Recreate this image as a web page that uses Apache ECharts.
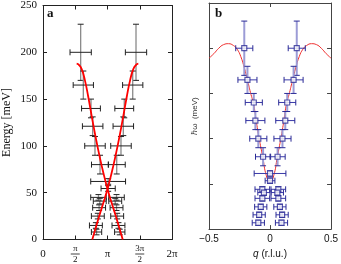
<!DOCTYPE html>
<html><head><meta charset="utf-8">
<script src="https://cdn.jsdelivr.net/npm/echarts@6/dist/echarts.min.js"></script>
<style>html,body{margin:0;padding:0;background:#fff}#c{width:341px;height:264px}</style>
</head><body><div id="c"></div>
<script>
// ---------- Panel a (x in units of pi, energy in meV) ----------
const aE      = [200, 165, 140, 121, 100, 80, 45, 41, 34, 25, 15, 8];
const aLeftX  = [0.584, 0.625, 0.744, 0.770, 0.806, 0.884, 0.86, 0.88, 0.87, 0.85, 0.82, 0.83];
const aRightX = [1.442, 1.391, 1.260, 1.245, 1.209, 1.143, 1.14, 1.12, 1.14, 1.15, 1.17, 1.19];
const aXErr   = [0.165, 0.157, 0.146, 0.159, 0.159, 0.132, 0.12, 0.10, 0.10, 0.10, 0.10, 0.08];
const aEErr   = [30, 15, 10, 10, 10, 10, 3, 3, 3, 3, 3, 3];
const aCenterX = [1.01, 1.01];
const aCenterE = [62, 54.5];
const aCenterXErr = [0.27, 0.11];
const aCenterEErr = [3, 3];
const aCurve1X = [0.764, 0.82, 0.88, 0.94, 1.0, 1.06, 1.12, 1.18, 1.24, 1.30, 1.35, 1.40, 1.45, 1.478];
const aCurve2X = [1.236, 1.18, 1.12, 1.06, 1.0, 0.94, 0.88, 0.82, 0.76, 0.70, 0.65, 0.60, 0.55, 0.522];
const aCurveE  = [0, 13, 27, 40, 54, 70, 88, 108, 130, 153, 170, 182, 187, 188];

// ---------- Panel b (q in r.l.u., energy in meV) ----------
const bE      = [200, 165, 140, 120, 100, 80, 44, 40.4, 34, 24.6, 15.8, 7];
const bLeftQ  = [-0.211, -0.185, -0.133, -0.120, -0.096, -0.057, -0.063, -0.050, -0.063, -0.076, -0.089, -0.096];
const bRightQ = [0.219, 0.193, 0.141, 0.125, 0.102, 0.062, 0.068, 0.060, 0.068, 0.081, 0.099, 0.094];
const bQErr   = [0.07, 0.078, 0.07, 0.078, 0.07, 0.062, 0.06, 0.05, 0.06, 0.05, 0.05, 0.05];
const bEErr   = [30, 15, 10, 10, 10, 10, 3, 3, 3, 3, 3, 3];
const bCenterQ = [0, 0];
const bCenterE = [61.5, 53.5];
const bCenterQErr = [0.13, 0.04];
const bCenterEErr = [3, 3];
const bCurveQ = [-0.5, -0.46, -0.42, -0.38, -0.34, -0.30, -0.27, -0.24, -0.21, -0.185, -0.16, -0.133, -0.11, -0.09, -0.06, -0.03, 0,
                 0.03, 0.06, 0.09, 0.11, 0.133, 0.16, 0.185, 0.21, 0.24, 0.27, 0.30, 0.34, 0.38, 0.42, 0.46, 0.5];
const bCurveE = [189, 194, 200, 204, 205, 203, 199, 191, 178, 165, 151, 137, 117, 101, 80, 59, 52,
                 59, 80, 101, 117, 137, 151, 165, 178, 191, 199, 203, 205, 204, 200, 194, 189];

function rows(xs, es, dxs, des) { return xs.map((x, i) => [x, es[i], dxs[i], des[i]]); }
const aErrData = rows(aLeftX, aE, aXErr, aEErr).concat(rows(aRightX, aE, aXErr, aEErr), rows(aCenterX, aCenterE, aCenterXErr, aCenterEErr));
const bErrData = rows(bLeftQ, bE, bQErr, bEErr).concat(rows(bRightQ, bE, bQErr, bEErr), rows(bCenterQ, bCenterE, bCenterQErr, bCenterEErr));

function makeErr(vColor, vWidth, hColor, hWidth, capColor) {
  return function (params, api) {
    const x = api.value(0), y = api.value(1), dx = api.value(2), dy = api.value(3);
    const l = api.coord([x - dx, y]), r = api.coord([x + dx, y]);
    const t = api.coord([x, y + dy]), b = api.coord([x, y - dy]);
    const cap = 3;
    const ln = (x1, y1, x2, y2, c, w) => ({type: 'line', shape: {x1, y1, x2, y2}, style: {stroke: c, lineWidth: w}});
    return {type: 'group', children: [
      ln(t[0], t[1], b[0], b[1], vColor, vWidth),
      ln(t[0] - cap, t[1], t[0] + cap, t[1], capColor, 1),
      ln(b[0] - cap, b[1], b[0] + cap, b[1], capColor, 1),
      ln(l[0], l[1], r[0], r[1], hColor, hWidth),
      ln(l[0], l[1] - cap, l[0], l[1] + cap, capColor, 1),
      ln(r[0], r[1] - cap, r[0], r[1] + cap, capColor, 1)
    ]};
  };
}

const serif = 'Liberation Serif';
const sans = 'Liberation Sans';
const axA = {onZero: false, lineStyle: {color: '#222', width: 1}};
const axB = {onZero: false, lineStyle: {color: '#444', width: 1}};
const tkA = {inside: true, length: 4, lineStyle: {color: '#222'}};
const tkB = {inside: true, length: 4, lineStyle: {color: '#444'}};

const option = {
  animation: false,
  grid: [
    {left: 43, right: 169, top: 3, bottom: 24},
    {left: 209, right: 4, top: 3, bottom: 24}
  ],
  xAxis: [
    {gridIndex: 0, type: 'value', min: 0, max: 2, interval: 0.5, position: 'bottom',
     axisLine: axA, axisTick: tkA, splitLine: {show: false},
     axisLabel: {margin: 5, fontFamily: serif, color: '#111', fontSize: 10,
       formatter: v => {
         if (Math.abs(v) < 1e-9) return '{z|0}';
         if (Math.abs(v - 1) < 1e-9) return '{z|π}';
         if (Math.abs(v - 2) < 1e-9) return '{z|2π}';
         const num = Math.abs(v - 0.5) < 1e-9 ? 'π' : '3π';
         return '{n|' + num + '}\n{bar| }\n{d|2}';
       },
       rich: {
         z: {fontFamily: serif, fontSize: 11, lineHeight: 19, color: '#111'},
         n: {fontFamily: serif, fontSize: 9, lineHeight: 8, color: '#111', align: 'center'},
         bar: {fontSize: 1, lineHeight: 3, height: 0.8, width: 9, backgroundColor: '#111', align: 'center'},
         d: {fontFamily: serif, fontSize: 9, lineHeight: 8, color: '#111', align: 'center'}
       }}},
    {gridIndex: 0, type: 'value', min: 0, max: 2, interval: 0.5, position: 'top',
     axisLine: axA, axisTick: tkA, axisLabel: {show: false}, splitLine: {show: false}},
    {gridIndex: 1, type: 'value', min: -0.5, max: 0.5, interval: 0.5, position: 'bottom',
     axisLine: axB, axisTick: tkB, splitLine: {show: false},
     axisLabel: {margin: 5, fontFamily: sans, fontSize: 10, color: '#111',
       formatter: v => (v < 0 ? '−' + Math.abs(v) : String(v))},
     name: '{i|q} (r.l.u.)', nameLocation: 'middle', nameGap: 19,
     nameTextStyle: {fontFamily: sans, fontSize: 10, color: '#111',
       rich: {i: {fontFamily: sans, fontStyle: 'italic', fontSize: 10, color: '#111'}}}},
    {gridIndex: 1, type: 'value', min: -0.5, max: 0.5, interval: 0.5, position: 'top',
     axisLine: axB, axisTick: tkB, axisLabel: {show: false}, splitLine: {show: false}}
  ],
  yAxis: [
    {gridIndex: 0, type: 'value', min: 0, max: 250, interval: 50, position: 'left',
     axisLine: axA, axisTick: tkA, splitLine: {show: false},
     axisLabel: {margin: 6, fontFamily: serif, fontSize: 11, color: '#111'},
     name: 'Energy [meV]', nameLocation: 'middle', nameGap: 30,
     nameTextStyle: {fontFamily: serif, fontSize: 12, color: '#111'}},
    {gridIndex: 0, type: 'value', min: 0, max: 250, interval: 50, position: 'right',
     axisLine: axA, axisTick: tkA, axisLabel: {show: false}, splitLine: {show: false}},
    {gridIndex: 1, type: 'value', min: 0, max: 250, interval: 50, position: 'left',
     axisLine: axB, axisTick: tkB, axisLabel: {show: false}, splitLine: {show: false},
     name: 'ℏω  (meV)', nameLocation: 'middle', nameGap: 10,
     nameTextStyle: {fontFamily: sans, fontSize: 8, color: '#333'}},
    {gridIndex: 1, type: 'value', min: 0, max: 250, interval: 50, position: 'right',
     axisLine: axB, axisTick: tkB, axisLabel: {show: false}, splitLine: {show: false}}
  ],
  graphic: [
    {type: 'text', left: 47, top: 7, style: {text: 'a', fontFamily: serif, fontWeight: 'bold', fontSize: 13, fill: '#111'}},
    {type: 'text', left: 215, top: 7, style: {text: 'b', fontFamily: serif, fontWeight: 'bold', fontSize: 13, fill: '#111'}}
  ],
  series: [
    {type: 'custom', xAxisIndex: 0, yAxisIndex: 0, renderItem: makeErr('#8a8a8a', 1.3, '#222', 1, '#222'), data: aErrData, z: 2},
    {type: 'line', xAxisIndex: 0, yAxisIndex: 0, data: aCurve1X.map((x, i) => [x, aCurveE[i]]), smooth: true, showSymbol: false,
     lineStyle: {color: '#ff0000', width: 1.8}, z: 3},
    {type: 'line', xAxisIndex: 0, yAxisIndex: 0, data: aCurve2X.map((x, i) => [x, aCurveE[i]]), smooth: true, showSymbol: false,
     lineStyle: {color: '#ff0000', width: 1.8}, z: 3},
    {type: 'line', xAxisIndex: 2, yAxisIndex: 2, data: bCurveQ.map((q, i) => [q, bCurveE[i]]), smooth: true, showSymbol: false,
     lineStyle: {color: '#ee3030', width: 1}, z: 2},
    {type: 'custom', xAxisIndex: 2, yAxisIndex: 2, renderItem: makeErr('#9c9cd6', 2, '#3a3aa8', 1, '#2a2a96'), data: bErrData, z: 3},
    {type: 'scatter', xAxisIndex: 2, yAxisIndex: 2,
     data: bLeftQ.map((q, i) => [q, bE[i]]).concat(bRightQ.map((q, i) => [q, bE[i]]), bCenterQ.map((q, i) => [q, bCenterE[i]])),
     symbol: 'rect', symbolSize: 5, itemStyle: {color: '#fff', borderColor: '#2a2a96', borderWidth: 1.2}, z: 4}
  ]
};
echarts.init(document.getElementById('c')).setOption(option);
</script></body></html>
